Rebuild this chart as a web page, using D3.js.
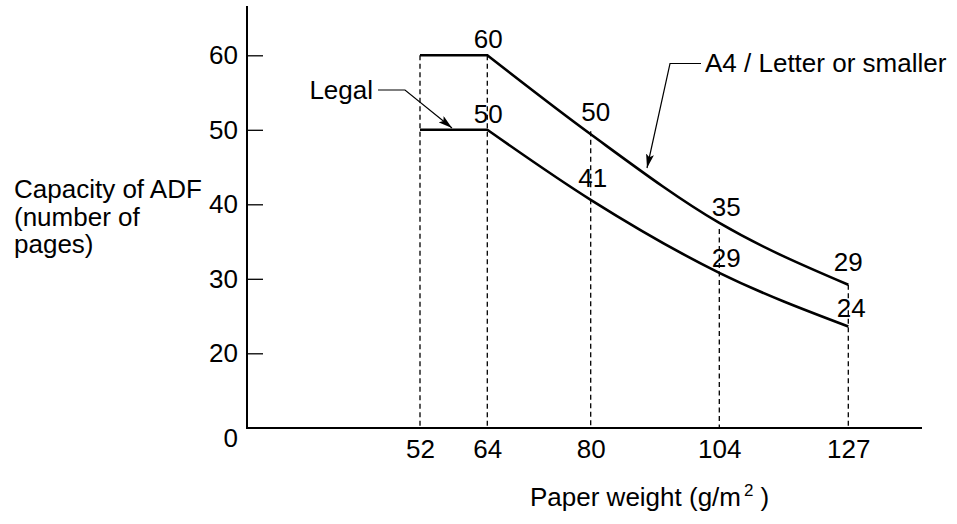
<!DOCTYPE html>
<html>
<head>
<meta charset="utf-8">
<script src="https://cdn.jsdelivr.net/npm/d3@7"></script>
<style>
  html, body { margin: 0; padding: 0; background: #fff; }
  svg { display: block; }
</style>
</head>
<body>
<svg id="chart" width="957" height="524"></svg>
<script>
// ---------------- data ----------------
const weights = [52, 64, 80, 104, 127];                 // paper weight g/m2 (x ticks)
const a4Capacity = [60, 60, 49.4, 37.5, 29.2];           // curve as drawn: A4 / Letter or smaller
const legalCapacity = [50, 50, 40.6, 30.8, 23.6];        // curve as drawn: Legal
const labelWeights = [64, 80, 104, 127];
const a4Labels = ["60", "50", "35", "29"];
const legalLabels = ["50", "41", "29", "24"];
const yTickValues = [0, 20, 30, 40, 50, 60];
const yTitle = ["Capacity of ADF", "(number of", "pages)"];
const xTitle = "Paper weight (g/m";
const seriesNames = ["A4 / Letter or smaller", "Legal"];

// ---------------- layout ----------------
const FONT = '"Liberation Sans", Arial, Helvetica, sans-serif';
const FS = 26;
const axisX0 = 247, axisX1 = 922, axisY = 428, axisTop = 6;

const x = d3.scaleLinear()
  .domain(weights)
  .range([420, 487.3, 590.7, 719.3, 848.3]);
const y = d3.scaleLinear()
  .domain([0, 20, 60])
  .range([axisY, 353.3, 55.3]);

const svg = d3.select("#chart");
svg.append("rect").attr("width", 957).attr("height", 524).attr("fill", "#fff");

svg.append("defs").append("marker")
  .attr("id", "arrow")
  .attr("viewBox", "0 0 14 8")
  .attr("refX", 14).attr("refY", 4)
  .attr("markerWidth", 14).attr("markerHeight", 8)
  .attr("markerUnits", "userSpaceOnUse")
  .attr("orient", "auto")
  .append("path").attr("d", "M0,0 L14,4 L0,8 L3,4 Z").attr("fill", "#000");

// ---------------- axes ----------------
svg.append("line")
  .attr("x1", axisX0).attr("x2", axisX0).attr("y1", axisTop).attr("y2", axisY + 1)
  .attr("stroke", "#000").attr("stroke-width", 2);
svg.append("line")
  .attr("x1", axisX0 - 1).attr("x2", axisX1).attr("y1", axisY).attr("y2", axisY)
  .attr("stroke", "#000").attr("stroke-width", 2);

const yAxisG = svg.append("g")
  .attr("transform", `translate(${axisX0},0)`)
  .call(d3.axisLeft(y).tickValues(yTickValues).tickSize(-16).tickPadding(9).tickFormat(d3.format("d")));
yAxisG.select(".domain").remove();
yAxisG.selectAll(".tick line").attr("stroke", "#000").attr("stroke-width", 1.3);
yAxisG.selectAll(".tick text").attr("font-family", FONT).attr("font-size", FS).attr("fill", "#000");
yAxisG.selectAll(".tick").filter(d => d === 0).select("line").remove();
yAxisG.selectAll(".tick").filter(d => d === 0).select("text").attr("y", 10);

const xAxisG = svg.append("g")
  .attr("transform", `translate(0,${axisY})`)
  .call(d3.axisBottom(x).tickValues(weights).tickSize(0).tickPadding(12).tickFormat(d3.format("d")));
xAxisG.select(".domain").remove();
xAxisG.selectAll(".tick text").attr("font-family", FONT).attr("font-size", FS).attr("fill", "#000");

// axis titles
const yt = svg.append("text").attr("font-family", FONT).attr("font-size", FS).attr("fill", "#000");
yt.selectAll("tspan").data(yTitle).join("tspan")
  .attr("x", 14).attr("y", (d, i) => 198 + i * 27.5).text(d => d);

const xt = svg.append("text").attr("font-family", FONT).attr("font-size", FS).attr("fill", "#000")
  .attr("x", 530).attr("y", 506);
xt.append("tspan").text(xTitle);
xt.append("tspan").attr("font-size", 17).attr("dy", -10).attr("dx", 3).text("2");
xt.append("tspan").attr("dy", 10).attr("dx", 7).text(")");

// ---------------- dashed guides ----------------
svg.append("g").selectAll("line").data(weights).join("line")
  .attr("x1", d => x(d)).attr("x2", d => x(d))
  .attr("y1", (d, i) => y(a4Capacity[i]) + (i === 2 ? -3 : i === 3 ? 6 : 0))
  .attr("y2", axisY)
  .attr("stroke", "#000").attr("stroke-width", 1.3).attr("stroke-dasharray", "5,3.5");

// ---------------- curves ----------------
function curvePath(vals) {
  const p = d3.path();
  p.moveTo(x(weights[0]), y(vals[0]));
  const ctx = {
    moveTo: (a, b) => p.lineTo(a, b),
    lineTo: (a, b) => p.lineTo(a, b),
    bezierCurveTo: (a, b, c, d, e, f) => p.bezierCurveTo(a, b, c, d, e, f),
    closePath: () => p.closePath()
  };
  d3.line().x(d => x(d[0])).y(d => y(d[1])).curve(d3.curveMonotoneX).context(ctx)(
    weights.slice(1).map((w, i) => [w, vals[i + 1]])
  );
  return p.toString();
}
[a4Capacity, legalCapacity].forEach(vals => {
  svg.append("path").attr("d", curvePath(vals))
    .attr("fill", "none").attr("stroke", "#000").attr("stroke-width", 2.6)
    .attr("stroke-linejoin", "miter");
});

// ---------------- value labels ----------------
const a4LabelOff = [[1, -7.3], [5, -13], [7, -7], [0, -14]];
const legalLabelOff = [[1, -7], [2, -13], [7, -6], [3, -9.5]];
function valueAt(vals, w) { return vals[weights.indexOf(w)]; }
svg.append("g").selectAll("text").data(labelWeights).join("text")
  .attr("x", (d, i) => x(d) + a4LabelOff[i][0])
  .attr("y", (d, i) => y(valueAt(a4Capacity, d)) + a4LabelOff[i][1])
  .attr("text-anchor", "middle").attr("font-family", FONT).attr("font-size", FS)
  .text((d, i) => a4Labels[i]);
svg.append("g").selectAll("text").data(labelWeights).join("text")
  .attr("x", (d, i) => x(d) + legalLabelOff[i][0])
  .attr("y", (d, i) => y(valueAt(legalCapacity, d)) + legalLabelOff[i][1])
  .attr("text-anchor", "middle").attr("font-family", FONT).attr("font-size", FS)
  .text((d, i) => legalLabels[i]);

// ---------------- callouts ----------------
// Legal
svg.append("text").attr("x", 373).attr("y", 99).attr("text-anchor", "end")
  .attr("font-family", FONT).attr("font-size", FS).text(seriesNames[1]);
svg.append("path").attr("d", "M378,90 L405,90 L452,128")
  .attr("fill", "none").attr("stroke", "#000").attr("stroke-width", 1.2)
  .attr("marker-end", "url(#arrow)");
// A4 / Letter
svg.append("text").attr("x", 705).attr("y", 72)
  .attr("font-family", FONT).attr("font-size", FS).text(seriesNames[0]);
svg.append("path").attr("d", "M701,63.5 L670,63.5 L647,168")
  .attr("fill", "none").attr("stroke", "#000").attr("stroke-width", 1.2)
  .attr("marker-end", "url(#arrow)");
</script>
</body>
</html>
